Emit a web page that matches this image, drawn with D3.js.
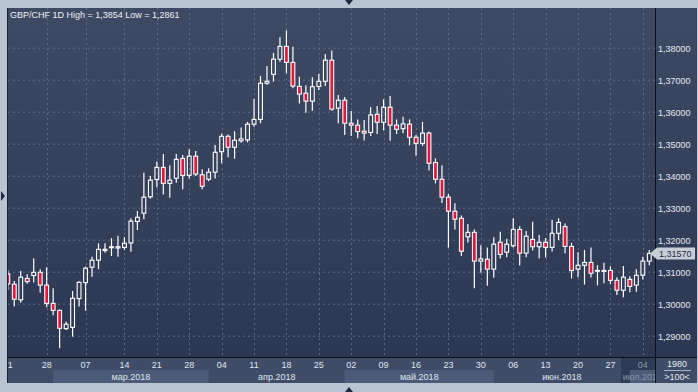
<!DOCTYPE html>
<html>
<head>
<meta charset="utf-8">
<script src="https://cdn.jsdelivr.net/npm/d3@7"></script>
<style>
  html, body { margin: 0; padding: 0; background: #b9c4d3; }
  svg { display: block; font-family: "Liberation Sans", Arial, sans-serif; }
</style>
</head>
<body>
<div id="chart"></div>
<script>
// GBP/CHF daily candles, 21 Feb - 05 Jul 2018
var dates = ["2018-02-21","2018-02-22","2018-02-23","2018-02-25","2018-02-26","2018-02-27","2018-02-28","2018-03-01","2018-03-02","2018-03-04",
  "2018-03-05","2018-03-06","2018-03-07","2018-03-08","2018-03-09","2018-03-11","2018-03-12","2018-03-13","2018-03-14","2018-03-15",
  "2018-03-16","2018-03-19","2018-03-20","2018-03-21","2018-03-22","2018-03-23","2018-03-26","2018-03-27","2018-03-28","2018-03-29",
  "2018-03-30","2018-04-02","2018-04-03","2018-04-04","2018-04-05","2018-04-06","2018-04-09","2018-04-10","2018-04-11","2018-04-12",
  "2018-04-13","2018-04-16","2018-04-17","2018-04-18","2018-04-19","2018-04-20","2018-04-23","2018-04-24","2018-04-25","2018-04-26",
  "2018-04-27","2018-04-30","2018-05-01","2018-05-02","2018-05-03","2018-05-04","2018-05-07","2018-05-08","2018-05-09","2018-05-10",
  "2018-05-11","2018-05-14","2018-05-15","2018-05-16","2018-05-17","2018-05-18","2018-05-21","2018-05-22","2018-05-23","2018-05-24",
  "2018-05-25","2018-05-28","2018-05-29","2018-05-30","2018-05-31","2018-06-01","2018-06-04","2018-06-05","2018-06-06","2018-06-07",
  "2018-06-08","2018-06-11","2018-06-12","2018-06-13","2018-06-14","2018-06-15","2018-06-18","2018-06-19","2018-06-20","2018-06-21",
  "2018-06-22","2018-06-25","2018-06-26","2018-06-27","2018-06-28","2018-06-29","2018-07-02","2018-07-03","2018-07-04","2018-07-05"];

var open = [1.3093,1.3061,1.3012,1.3079,1.3088,1.3098,1.3058,1.3001,1.2979,1.2922,
  1.2926,1.3016,1.3066,1.3114,1.3136,1.3166,1.3175,1.3174,1.3176,1.3190,
  1.3257,1.3283,1.3334,1.3388,1.3426,1.3376,1.3392,1.3454,1.3401,1.3461,
  1.3403,1.3389,1.3411,1.3475,1.3523,1.3489,1.3509,1.3512,1.3561,1.3576,
  1.3689,1.3717,1.3764,1.3804,1.3754,1.3679,1.3658,1.3633,1.3679,1.3695,
  1.3761,1.3611,1.3636,1.3564,1.3558,1.3539,1.3535,1.3592,1.3567,1.3614,
  1.3558,1.3547,1.3561,1.3520,1.3501,1.3533,1.3441,1.3389,1.3333,1.3289,
  1.3267,1.3209,1.3223,1.3133,1.3139,1.3108,1.3192,1.3161,1.3181,1.3232,
  1.3158,1.3201,1.3178,1.3192,1.3176,1.3220,1.3241,1.3179,1.3108,1.3120,
  1.3129,1.3102,1.3101,1.3104,1.3073,1.3042,1.3076,1.3058,1.3089,1.3133];
var high = [1.3105,1.3071,1.3102,1.3092,1.3142,1.3108,1.3114,1.3048,1.2983,1.2944,
  1.3040,1.3070,1.3116,1.3147,1.3189,1.3189,1.3205,1.3212,1.3208,1.3267,
  1.3290,1.3409,1.3399,1.3444,1.3468,1.3433,1.3468,1.3465,1.3483,1.3477,
  1.3420,1.3423,1.3496,1.3531,1.3529,1.3539,1.3551,1.3568,1.3640,1.3712,
  1.3743,1.3784,1.3833,1.3854,1.3803,1.3709,1.3683,1.3708,1.3718,1.3780,
  1.3791,1.3652,1.3646,1.3602,1.3576,1.3574,1.3615,1.3618,1.3639,1.3649,
  1.3576,1.3584,1.3576,1.3527,1.3568,1.3538,1.3454,1.3433,1.3343,1.3314,
  1.3276,1.3249,1.3232,1.3183,1.3176,1.3208,1.3225,1.3203,1.3267,1.3242,
  1.3227,1.3256,1.3215,1.3205,1.3262,1.3267,1.3251,1.3190,1.3161,1.3168,
  1.3176,1.3120,1.3128,1.3117,1.3083,1.3118,1.3086,1.3108,1.3147,1.3168];
var low = [1.3043,1.2991,1.3003,1.3062,1.3066,1.3034,1.2989,1.2964,1.2861,1.2918,
  1.2897,1.2991,1.2978,1.3084,1.3108,1.3159,1.3149,1.3147,1.3168,1.3162,
  1.3230,1.3264,1.3328,1.3364,1.3341,1.3331,1.3378,1.3358,1.3391,1.3399,
  1.3358,1.3383,1.3391,1.3439,1.3458,1.3453,1.3503,1.3504,1.3553,1.3564,
  1.3684,1.3694,1.3756,1.3720,1.3673,1.3626,1.3597,1.3603,1.3668,1.3680,
  1.3603,1.3564,1.3527,1.3524,1.3517,1.3510,1.3524,1.3530,1.3541,1.3509,
  1.3530,1.3533,1.3495,1.3462,1.3493,1.3416,1.3376,1.3315,1.3175,1.3232,
  1.3149,1.3191,1.3048,1.3097,1.3056,1.3081,1.3141,1.3145,1.3176,1.3119,
  1.3145,1.3166,1.3141,1.3144,1.3163,1.3199,1.3158,1.3079,1.3083,1.3060,
  1.3082,1.3057,1.3064,1.3062,1.3027,1.3020,1.3036,1.3037,1.3076,1.3120];
var close = [1.3062,1.3014,1.3083,1.3069,1.3098,1.3058,1.3001,1.2979,1.2923,1.2936,
  1.3017,1.3067,1.3111,1.3136,1.3170,1.3170,1.3178,1.3178,1.3189,1.3258,
  1.3270,1.3333,1.3386,1.3426,1.3376,1.3386,1.3451,1.3401,1.3461,1.3405,
  1.3367,1.3411,1.3473,1.3523,1.3489,1.3511,1.3515,1.3561,1.3576,1.3689,
  1.3695,1.3764,1.3804,1.3754,1.3680,1.3655,1.3633,1.3678,1.3695,1.3761,
  1.3608,1.3636,1.3564,1.3558,1.3538,1.3533,1.3590,1.3567,1.3614,1.3558,
  1.3545,1.3562,1.3520,1.3501,1.3533,1.3439,1.3389,1.3333,1.3289,1.3264,
  1.3164,1.3223,1.3133,1.3140,1.3108,1.3186,1.3154,1.3186,1.3232,1.3158,
  1.3211,1.3178,1.3192,1.3176,1.3220,1.3254,1.3179,1.3104,1.3120,1.3129,
  1.3095,1.3104,1.3104,1.3073,1.3042,1.3083,1.3054,1.3089,1.3133,1.3157];

var priceTicks = [1.29, 1.30, 1.31, 1.32, 1.33, 1.34, 1.35, 1.36, 1.37, 1.38];
var weekTicks = ["2018-02-21","2018-02-28","2018-03-07","2018-03-14","2018-03-21","2018-03-28","2018-04-04",
  "2018-04-11","2018-04-18","2018-04-25","2018-05-02","2018-05-09","2018-05-16","2018-05-23","2018-05-30",
  "2018-06-06","2018-06-13","2018-06-20","2018-06-27","2018-07-04"];
var monthStarts = ["2018-03-01","2018-04-02","2018-05-01","2018-06-01","2018-07-02"];
var monthNames = ["мар.2018","апр.2018","май.2018","июн.2018","июл.2018"];
var lastPrice = 1.3157;

var W = 698, H = 392;
var L = 8, T = 8, R = 655, B = 357, AX = 383;

var svg = d3.select("#chart").append("svg").attr("width", W).attr("height", H);

var defs = svg.append("defs");
var grad = defs.append("linearGradient").attr("id", "bg").attr("x1", 0).attr("y1", 0).attr("x2", 0).attr("y2", 1);
grad.append("stop").attr("offset", "0%").attr("stop-color", "#3e4a63");
grad.append("stop").attr("offset", "100%").attr("stop-color", "#2c3853");
defs.append("clipPath").attr("id", "plotclip").append("rect")
  .attr("x", L).attr("y", T).attr("width", R - L).attr("height", B - T);
defs.append("clipPath").attr("id", "axclip").append("rect")
  .attr("x", L).attr("y", B).attr("width", R - L).attr("height", AX - B);

// frame
svg.append("rect").attr("width", W).attr("height", H).attr("fill", "#b9c4d3");
svg.append("rect").attr("x", L).attr("y", T).attr("width", W - 1 - L).attr("height", B - T).attr("fill", "url(#bg)");

var x = d3.scalePoint().domain(dates).range([7.8, 649.3]);
var y = d3.scaleLinear().domain([1.29, 1.38]).range([335.7, 47.7]);
var step = x.step();

// bottom axis background
svg.append("rect").attr("x", L).attr("y", B).attr("width", W - 1 - L).attr("height", AX - B).attr("fill", "#3f4c67");

var ax = svg.append("g").attr("clip-path", "url(#axclip)");
monthStarts.forEach(function (m, i) {
  var x0 = x(m);
  var x1 = i < monthStarts.length - 1 ? x(monthStarts[i + 1]) : R;
  if (i % 2 === 0) {
    ax.append("rect").attr("x", x0).attr("y", 370).attr("width", (i < monthStarts.length - 1 ? x1 : R + 40) - x0)
      .attr("height", AX - 370).attr("fill", "#4c5b77");
  }
  ax.append("text").attr("x", (x0 + x1) / 2).attr("y", 380).attr("text-anchor", "middle")
    .attr("font-size", 9).attr("fill", i === monthStarts.length - 1 ? "#8a96aa" : "#dfe5ee").text(monthNames[i]);
});
// current-period shade in the axis
ax.insert("rect", "text").attr("x", 621).attr("y", B).attr("width", R - 621).attr("height", AX - B)
  .attr("fill", "#2c3852").attr("opacity", 0.85);
ax.selectAll("text").raise();

weekTicks.forEach(function (d, i) {
  ax.append("text").attr("x", x(d)).attr("y", 368).attr("text-anchor", "middle")
    .attr("font-size", 9).attr("fill", i === weekTicks.length - 1 ? "#8a96aa" : "#dfe5ee")
    .text(d.slice(8));
});

// grid
var plot = svg.append("g").attr("clip-path", "url(#plotclip)");
plot.selectAll("line.h").data(priceTicks).enter().append("line")
  .attr("x1", L).attr("x2", R).attr("y1", d => y(d) + 0.5).attr("y2", d => y(d) + 0.5)
  .attr("stroke", "#5b6a86").attr("stroke-dasharray", "2,3");
plot.selectAll("line.v").data(weekTicks.slice(1)).enter().append("line")
  .attr("x1", d => Math.round(x(d)) + 0.5).attr("x2", d => Math.round(x(d)) + 0.5)
  .attr("y1", T).attr("y2", B)
  .attr("stroke", "#5b6a86").attr("stroke-dasharray", "2,3");

// candles
var candles = dates.map(function (d, i) {
  return { date: d, o: open[i], h: high[i], l: low[i], c: close[i] };
});
var g = plot.selectAll("g.candle").data(candles).enter().append("g").attr("class", "candle");
g.append("line")
  .attr("x1", d => x(d.date)).attr("x2", d => x(d.date))
  .attr("y1", d => y(d.h)).attr("y2", d => y(Math.max(d.o, d.c)))
  .attr("stroke", "#ffffff").attr("stroke-width", 1.2);
g.append("line")
  .attr("x1", d => x(d.date)).attr("x2", d => x(d.date))
  .attr("y1", d => y(Math.min(d.o, d.c))).attr("y2", d => y(d.l))
  .attr("stroke", "#ffffff").attr("stroke-width", 1.2);
g.append("rect")
  .attr("x", d => x(d.date) - 1.9).attr("width", 3.8)
  .attr("y", d => y(Math.max(d.o, d.c)))
  .attr("height", d => Math.max(0.8, Math.abs(y(d.o) - y(d.c))))
  .attr("fill", d => d.c < d.o ? "#e3173d" : "none")
  .attr("stroke", "#ffffff").attr("stroke-width", 1.1);

// separators
svg.append("line").attr("x1", 7.5).attr("x2", 7.5).attr("y1", T).attr("y2", AX).attr("stroke", "#1b2232");
svg.append("line").attr("x1", R + 0.5).attr("x2", R + 0.5).attr("y1", T).attr("y2", AX).attr("stroke", "#0c1018");
svg.append("line").attr("x1", L).attr("x2", W - 1).attr("y1", B + 0.5).attr("y2", B + 0.5).attr("stroke", "#0c1018");

// price axis
svg.selectAll("text.py").data(priceTicks).enter().append("text")
  .attr("x", 658).attr("y", d => y(d) + 4.5)
  .attr("font-size", 9).attr("fill", "#e4e9f1")
  .text(d => d3.format(".5f")(d).replace(".", ","));

// last price tag
var ly = y(lastPrice);
svg.append("path")
  .attr("d", "M650," + ly + " L657," + (ly - 6) + " L695," + (ly - 6) + " L695," + (ly + 6) + " L657," + (ly + 6) + " Z")
  .attr("fill", "#c8cdd6");
svg.append("text").attr("x", 659).attr("y", ly + 3.5).attr("font-size", 9).attr("fill", "#1e2b49")
  .text(d3.format(".5f")(lastPrice).replace(".", ","));

// corner box
svg.append("text").attr("x", 677).attr("y", 367).attr("text-anchor", "middle").attr("font-size", 9).attr("fill", "#e4e9f1").text("1980");
svg.append("line").attr("x1", 664).attr("x2", 691).attr("y1", 370.5).attr("y2", 370.5).attr("stroke", "#aab4c4");
svg.append("text").attr("x", 677).attr("y", 380).attr("text-anchor", "middle").attr("font-size", 9).attr("fill", "#e4e9f1").text(">100<");

// title
svg.append("text").attr("x", 10).attr("y", 18).attr("font-size", 9).attr("fill", "#eef1f6")
  .text("GBP/CHF 1D High = " + d3.format(".4f")(d3.max(high)).replace(".", ",") +
        " Low = " + d3.format(".4f")(d3.min(low)).replace(".", ","));

// frame arrows
svg.append("path").attr("d", "M345,0 L353,0 L349,5 Z").attr("fill", "#1f2a40");
svg.append("path").attr("d", "M345,392 L353,392 L349,387 Z").attr("fill", "#1f2a40");
svg.append("path").attr("d", "M1,191 L5,196 L1,201 Z").attr("fill", "#1f2a40");
</script>
</body>
</html>
